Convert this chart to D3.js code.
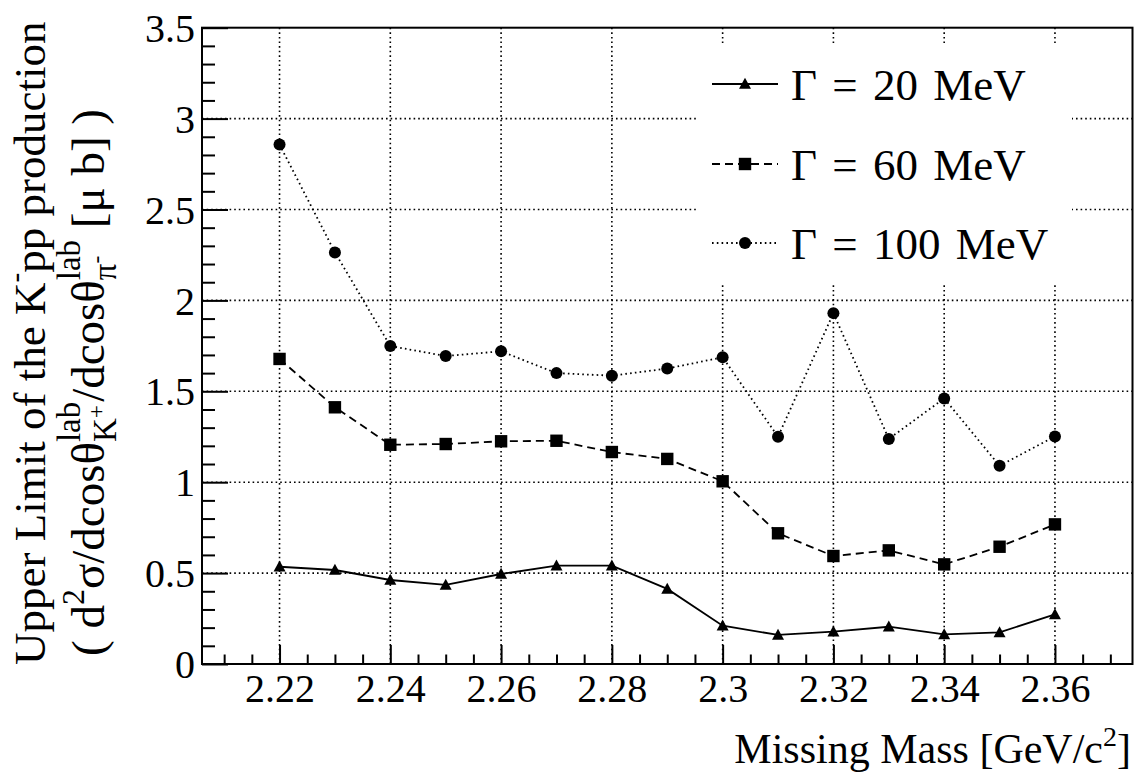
<!DOCTYPE html>
<html>
<head>
<meta charset="utf-8">
<script src="https://cdn.jsdelivr.net/npm/d3@7"></script>
<style>
  html, body { margin: 0; padding: 0; background: #fff; }
  svg { display: block; }
  text { font-family: "Liberation Serif", "Times New Roman", serif; fill: #000; white-space: pre; }
</style>
</head>
<body>
<svg id="chart" width="1136" height="776"></svg>
<script>
// Missing-mass bins [GeV/c^2]
const mass = [2.22, 2.23, 2.24, 2.25, 2.26, 2.27, 2.28, 2.29, 2.30, 2.31, 2.32, 2.33, 2.34, 2.35, 2.36];

// Upper limits [mu b] for three assumed widths
const gamma20  = [0.535, 0.517, 0.462, 0.435, 0.495, 0.541, 0.541, 0.413, 0.211, 0.160, 0.178, 0.205, 0.163, 0.174, 0.273];
const gamma60  = [1.678, 1.412, 1.206, 1.210, 1.225, 1.228, 1.166, 1.128, 1.005, 0.719, 0.594, 0.625, 0.548, 0.645, 0.768];
const gamma100 = [2.857, 2.264, 1.749, 1.694, 1.720, 1.600, 1.586, 1.625, 1.687, 1.250, 1.930, 1.238, 1.461, 1.090, 1.252];

const seriesNames = ["\u0393 = 20 MeV", "\u0393 = 60 MeV", "\u0393 = 100 MeV"];

// Axis ticks
const xTickValues = [2.22, 2.24, 2.26, 2.28, 2.30, 2.32, 2.34, 2.36];
const xTickLabels = ["2.22", "2.24", "2.26", "2.28", "2.3", "2.32", "2.34", "2.36"];
const yTickValues = [0, 0.5, 1, 1.5, 2, 2.5, 3, 3.5];
const yTickLabels = ["0", "0.5", "1", "1.5", "2", "2.5", "3", "3.5"];

const svg = d3.select("#chart");
svg.append("rect").attr("width", 1136).attr("height", 776).attr("fill", "#fff");

const frame = { left: 202, right: 1132.5, top: 27.7, bottom: 664 };
const x = d3.scaleLinear().domain([2.206, 2.374]).range([frame.left, frame.right]);
const y = d3.scaleLinear().domain([0, 3.5]).range([frame.bottom, frame.top]);

// Grid (dotted) at major ticks
const grid = svg.append("g").attr("stroke", "#000").attr("stroke-width", 1.6)
  .attr("stroke-dasharray", "1.6,3").attr("fill", "none");
grid.selectAll("line.gx").data(xTickValues).join("line")
  .attr("x1", d => x(d)).attr("x2", d => x(d))
  .attr("y1", frame.top).attr("y2", frame.bottom);
grid.selectAll("line.gy").data(yTickValues.filter(v => v > 0 && v < 3.5)).join("line")
  .attr("x1", frame.left).attr("x2", frame.right)
  .attr("y1", d => y(d)).attr("y2", d => y(d));

// Minor tick positions
const xMinor = d3.range(2.21, 2.3725, 0.005).map(v => +v.toFixed(3))
  .filter(v => !xTickValues.some(t => Math.abs(t - v) < 1e-6));
const yMinor = d3.range(0.1, 3.5, 0.1).map(v => +v.toFixed(2))
  .filter(v => !yTickValues.some(t => Math.abs(t - v) < 1e-6));

// X axis
const xAxis = d3.axisBottom(x).tickValues(xTickValues)
  .tickFormat((d, i) => xTickLabels[i]).tickSizeInner(-19).tickSizeOuter(0).tickPadding(38);
const gx = svg.append("g").attr("transform", `translate(0,${frame.bottom})`).call(xAxis);
gx.select(".domain").remove();
gx.selectAll("line").attr("stroke", "#000").attr("stroke-width", 2);
gx.selectAll("text").attr("font-size", 40).attr("dy", "0").attr("font-family", "Liberation Serif");

const gxm = svg.append("g").attr("transform", `translate(0,${frame.bottom})`)
  .call(d3.axisBottom(x).tickValues(xMinor).tickFormat("").tickSizeInner(-9.5).tickSizeOuter(0));
gxm.select(".domain").remove();
gxm.selectAll("line").attr("stroke", "#000").attr("stroke-width", 2);

// Y axis
const yAxis = d3.axisLeft(y).tickValues(yTickValues)
  .tickFormat((d, i) => yTickLabels[i]).tickSizeInner(-26).tickSizeOuter(0).tickPadding(7);
const gy = svg.append("g").attr("transform", `translate(${frame.left},0)`).call(yAxis);
gy.select(".domain").remove();
gy.selectAll("line").attr("stroke", "#000").attr("stroke-width", 2);
gy.selectAll("text").attr("font-size", 40).attr("dy", "0.34em").attr("font-family", "Liberation Serif");

const gym = svg.append("g").attr("transform", `translate(${frame.left},0)`)
  .call(d3.axisLeft(y).tickValues(yMinor).tickFormat("").tickSizeInner(-13).tickSizeOuter(0));
gym.select(".domain").remove();
gym.selectAll("line").attr("stroke", "#000").attr("stroke-width", 2);

// Frame
svg.append("rect")
  .attr("x", frame.left).attr("y", frame.top)
  .attr("width", frame.right - frame.left).attr("height", frame.bottom - frame.top)
  .attr("fill", "none").attr("stroke", "#000").attr("stroke-width", 2);

// Marker shapes
function drawMarker(g, kind, cx, cy) {
  if (kind === "triangle") {
    g.append("path").attr("d", `M${cx},${cy - 6.2}L${cx + 6},${cy + 4.8}L${cx - 6},${cy + 4.8}Z`).attr("fill", "#000");
  } else if (kind === "square") {
    g.append("rect").attr("x", cx - 6.2).attr("y", cy - 6.2).attr("width", 12.4).attr("height", 12.4).attr("fill", "#000");
  } else {
    g.append("circle").attr("cx", cx).attr("cy", cy).attr("r", 6).attr("fill", "#000");
  }
}

const series = [
  { values: gamma20,  dash: null,      marker: "triangle" },
  { values: gamma60,  dash: "8,5",     marker: "square" },
  { values: gamma100, dash: "1.6,3.2", marker: "circle" }
];

const line = d3.line().x(d => x(d[0])).y(d => y(d[1]));
series.forEach(s => {
  const pts = mass.map((m, i) => [m, s.values[i]]);
  svg.append("path").datum(pts).attr("d", line)
    .attr("fill", "none").attr("stroke", "#000").attr("stroke-width", 1.8)
    .attr("stroke-dasharray", s.dash);
  const gm = svg.append("g");
  pts.forEach(p => drawMarker(gm, s.marker, x(p[0]), y(p[1])));
});

// Legend
const legend = svg.append("g");
legend.append("rect").attr("x", 697).attr("y", 43).attr("width", 375).attr("height", 240).attr("fill", "#fff");
const legendRows = [84, 164, 243];
series.forEach((s, i) => {
  const cy = legendRows[i];
  legend.append("line").attr("x1", 712).attr("x2", 778).attr("y1", cy).attr("y2", cy)
    .attr("stroke", "#000").attr("stroke-width", 1.8).attr("stroke-dasharray", s.dash);
  drawMarker(legend, s.marker, 745, cy);
  legend.append("text").attr("x", 791).attr("y", cy + 15.5)
    .attr("font-size", 45).attr("word-spacing", 4).text(seriesNames[i]);
});

// X axis title
svg.append("text").attr("x", 1131).attr("y", 763).attr("text-anchor", "end").attr("font-size", 42)
  .call(t => {
    t.append("tspan").text("Missing Mass [GeV/c");
    t.append("tspan").attr("font-size", 28).attr("dy", -17).text("2");
    t.append("tspan").attr("dy", 17).text("]");
  });

// Y axis title: rich text laid out run by run, rotated
function layoutRuns(g, runs, fontSize) {
  let cx = 0;
  function put(r) {
    const t = g.append("text").attr("x", cx).attr("y", (r.dy || 0) * fontSize)
      .attr("font-size", (r.s || 1) * fontSize).text(r.t);
    cx += t.node().getComputedTextLength();
  }
  runs.forEach(r => {
    if (r.stack) {
      const start = cx;
      r.stack[0].forEach(put);
      const end1 = cx;
      cx = start;
      r.stack[1].forEach(put);
      cx = Math.max(end1, cx);
    } else {
      put(r);
    }
  });
  return cx;
}

const ytitle = svg.append("g");
const l1 = ytitle.append("g").attr("transform", "translate(45,665) rotate(-90)");
layoutRuns(l1, [
  { t: "Upper Limit of the K" },
  { t: "-", s: 0.65, dy: -0.45 },
  { t: "pp production" }
], 45);

const l2 = ytitle.append("g").attr("transform", "translate(104,656) rotate(-90)");
layoutRuns(l2, [
  { t: "( d" },
  { t: "2", s: 0.68, dy: -0.42 },
  { t: "\u03c3/dcos\u03b8" },
  { stack: [
      [{ t: "lab", s: 0.7, dy: -0.52 }],
      [{ t: "K", s: 0.7, dy: 0.26 }, { t: "+", s: 0.5, dy: 0.0 }]
  ] },
  { t: "/dcos\u03b8" },
  { stack: [
      [{ t: "lab", s: 0.7, dy: -0.52 }],
      [{ t: "\u03c0", s: 0.7, dy: 0.26 }, { t: "-", s: 0.5, dy: 0.0 }]
  ] },
  { t: " [\u03bc b] )" }
], 47);
</script>
</body>
</html>
